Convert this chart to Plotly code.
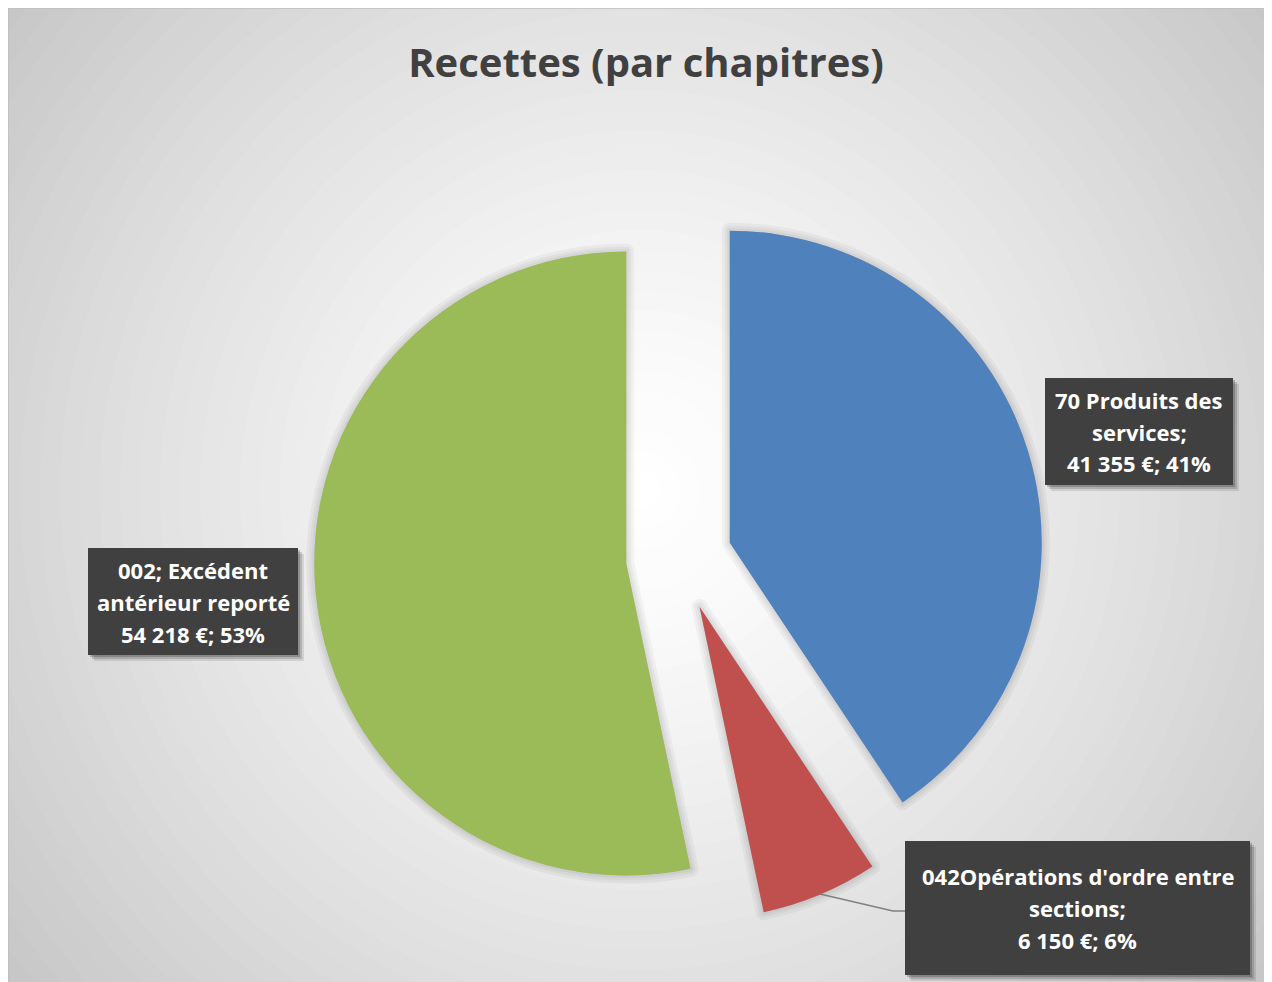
import math
import plotly.graph_objects as go

# ---------------- data ----------------
categories = ["70 Produits des services",
              "042Opérations d'ordre entre sections",
              "002; Excédent antérieur reporté"]
values = [41355, 6150, 54218]
colors = ["#4F81BD", "#C0504D", "#9BBB59"]
# how Excel wrapped each category name in its label box
label_lines = [
    ["70 Produits des", "services;"],
    ["042Opérations d'ordre entre", "sections;"],
    ["002; Excédent", "antérieur reporté"],
]
title_text = "Recettes (par chapitres)"

total = sum(values)
pcts = [round(100 * v / total) for v in values]


def fmt_eur(v):
    return f"{v:,}".replace(",", " ") + " €"


label_rows = [lines + [f"{fmt_eur(v)}; {p}%"]
              for lines, v, p in zip(label_lines, values, pcts)]

# ---------------- layout helpers (pixels of the page) ----------------
W, H = 1272, 982
OX, OY = 8, 8


def px(x):
    return (x - OX) / W


def py(y):
    return 1 - (y - OY) / H


CX, CY = 679, 558      # pie centre on the page
R = 312                # pie radius
OFF = 53               # explosion distance
pull = OFF / R
half = R + OFF
dom = dict(x=[px(CX - half - 60), px(CX + half + 60)],
           y=[py(CY + half), py(CY - half)])

fig = go.Figure()

# soft shadow around the slices
for lw in [16, 10, 5]:
    fig.add_trace(go.Pie(
        values=values, sort=False, direction="clockwise", rotation=0,
        pull=[pull] * len(values),
        marker=dict(colors=["rgba(0,0,0,0.04)"] * len(values),
                    line=dict(color="rgba(0,0,0,0.04)", width=lw)),
        textinfo="none", hoverinfo="skip", showlegend=False, domain=dom,
    ))

fig.add_trace(go.Pie(
    labels=categories, values=values, sort=False, direction="clockwise",
    rotation=0, pull=[pull] * len(values),
    marker=dict(colors=colors, line=dict(width=0)),
    textinfo="none", hoverinfo="label+value+percent", showlegend=False,
    domain=dom,
))

# ---------------- background radial gradient ----------------
shapes = []
GX, GY = 640, 490
RMAX = 900
N = 45
for i in range(N):
    rr = RMAX * (1 - i / N)
    t = rr / 820
    v = int(round(255 - 58 * min(t, 1.1) ** 1.35))
    v = max(0, min(255, v))
    shapes.append(dict(type="circle", xref="paper", yref="paper",
                       x0=px(GX - rr), x1=px(GX + rr),
                       y0=py(GY + rr), y1=py(GY - rr),
                       fillcolor=f"rgb({v},{v},{v})", line=dict(width=0),
                       layer="below"))
# chart border
shapes.append(dict(type="rect", xref="paper", yref="paper", x0=0, x1=1, y0=0, y1=1,
                   line=dict(color="#bfbfbf", width=1.5), fillcolor="rgba(0,0,0,0)",
                   layer="below"))

# label boxes (page pixel boxes)
boxes = [
    (1045, 378, 1233, 485),
    (905, 841, 1250, 975),
    (88, 548, 298, 655),
]
LINE = 32
annotations = []
for (x0, y0, x1, y1), rows in zip(boxes, label_rows):
    for d, a in [(6, 0.10), (4, 0.15), (2, 0.2)]:
        shapes.append(dict(type="rect", xref="paper", yref="paper",
                           x0=px(x0 + d), x1=px(x1 + d), y0=py(y1 + d), y1=py(y0 + d),
                           fillcolor=f"rgba(0,0,0,{a})", line=dict(width=0),
                           layer="above"))
    shapes.append(dict(type="rect", xref="paper", yref="paper",
                       x0=px(x0), x1=px(x1), y0=py(y1), y1=py(y0),
                       fillcolor="#404040", line=dict(width=0), layer="above"))
    yc = (y0 + y1) / 2
    n = len(rows)
    for k, row in enumerate(rows):
        annotations.append(dict(
            xref="paper", yref="paper", x=px((x0 + x1) / 2),
            y=py(yc + (k - (n - 1) / 2) * LINE),
            xanchor="center", yanchor="middle", showarrow=False, text=row,
            font=dict(family="Open Sans", size=22, color="white", weight="bold"),
        ))

# leader line for the small slice
shapes.append(dict(type="path", xref="paper", yref="paper",
                   path=f"M {px(820)},{py(894)} L {px(893)},{py(911)} L {px(905)},{py(911)}",
                   line=dict(color="#808080", width=1.5), layer="above"))

fig.update_layout(
    width=W, height=H, margin=dict(l=0, r=0, t=0, b=0),
    paper_bgcolor="#ffffff", plot_bgcolor="#ffffff",
    title=dict(text=title_text, xref="paper", yref="paper",
               x=px(646), y=py(63), xanchor="center", yanchor="middle",
               font=dict(family="Open Sans", size=40, color="#404040", weight="bold")),
    shapes=shapes, annotations=annotations,
)

fig.write_html("out.html", post_script="document.body.style.overflow='hidden';")
